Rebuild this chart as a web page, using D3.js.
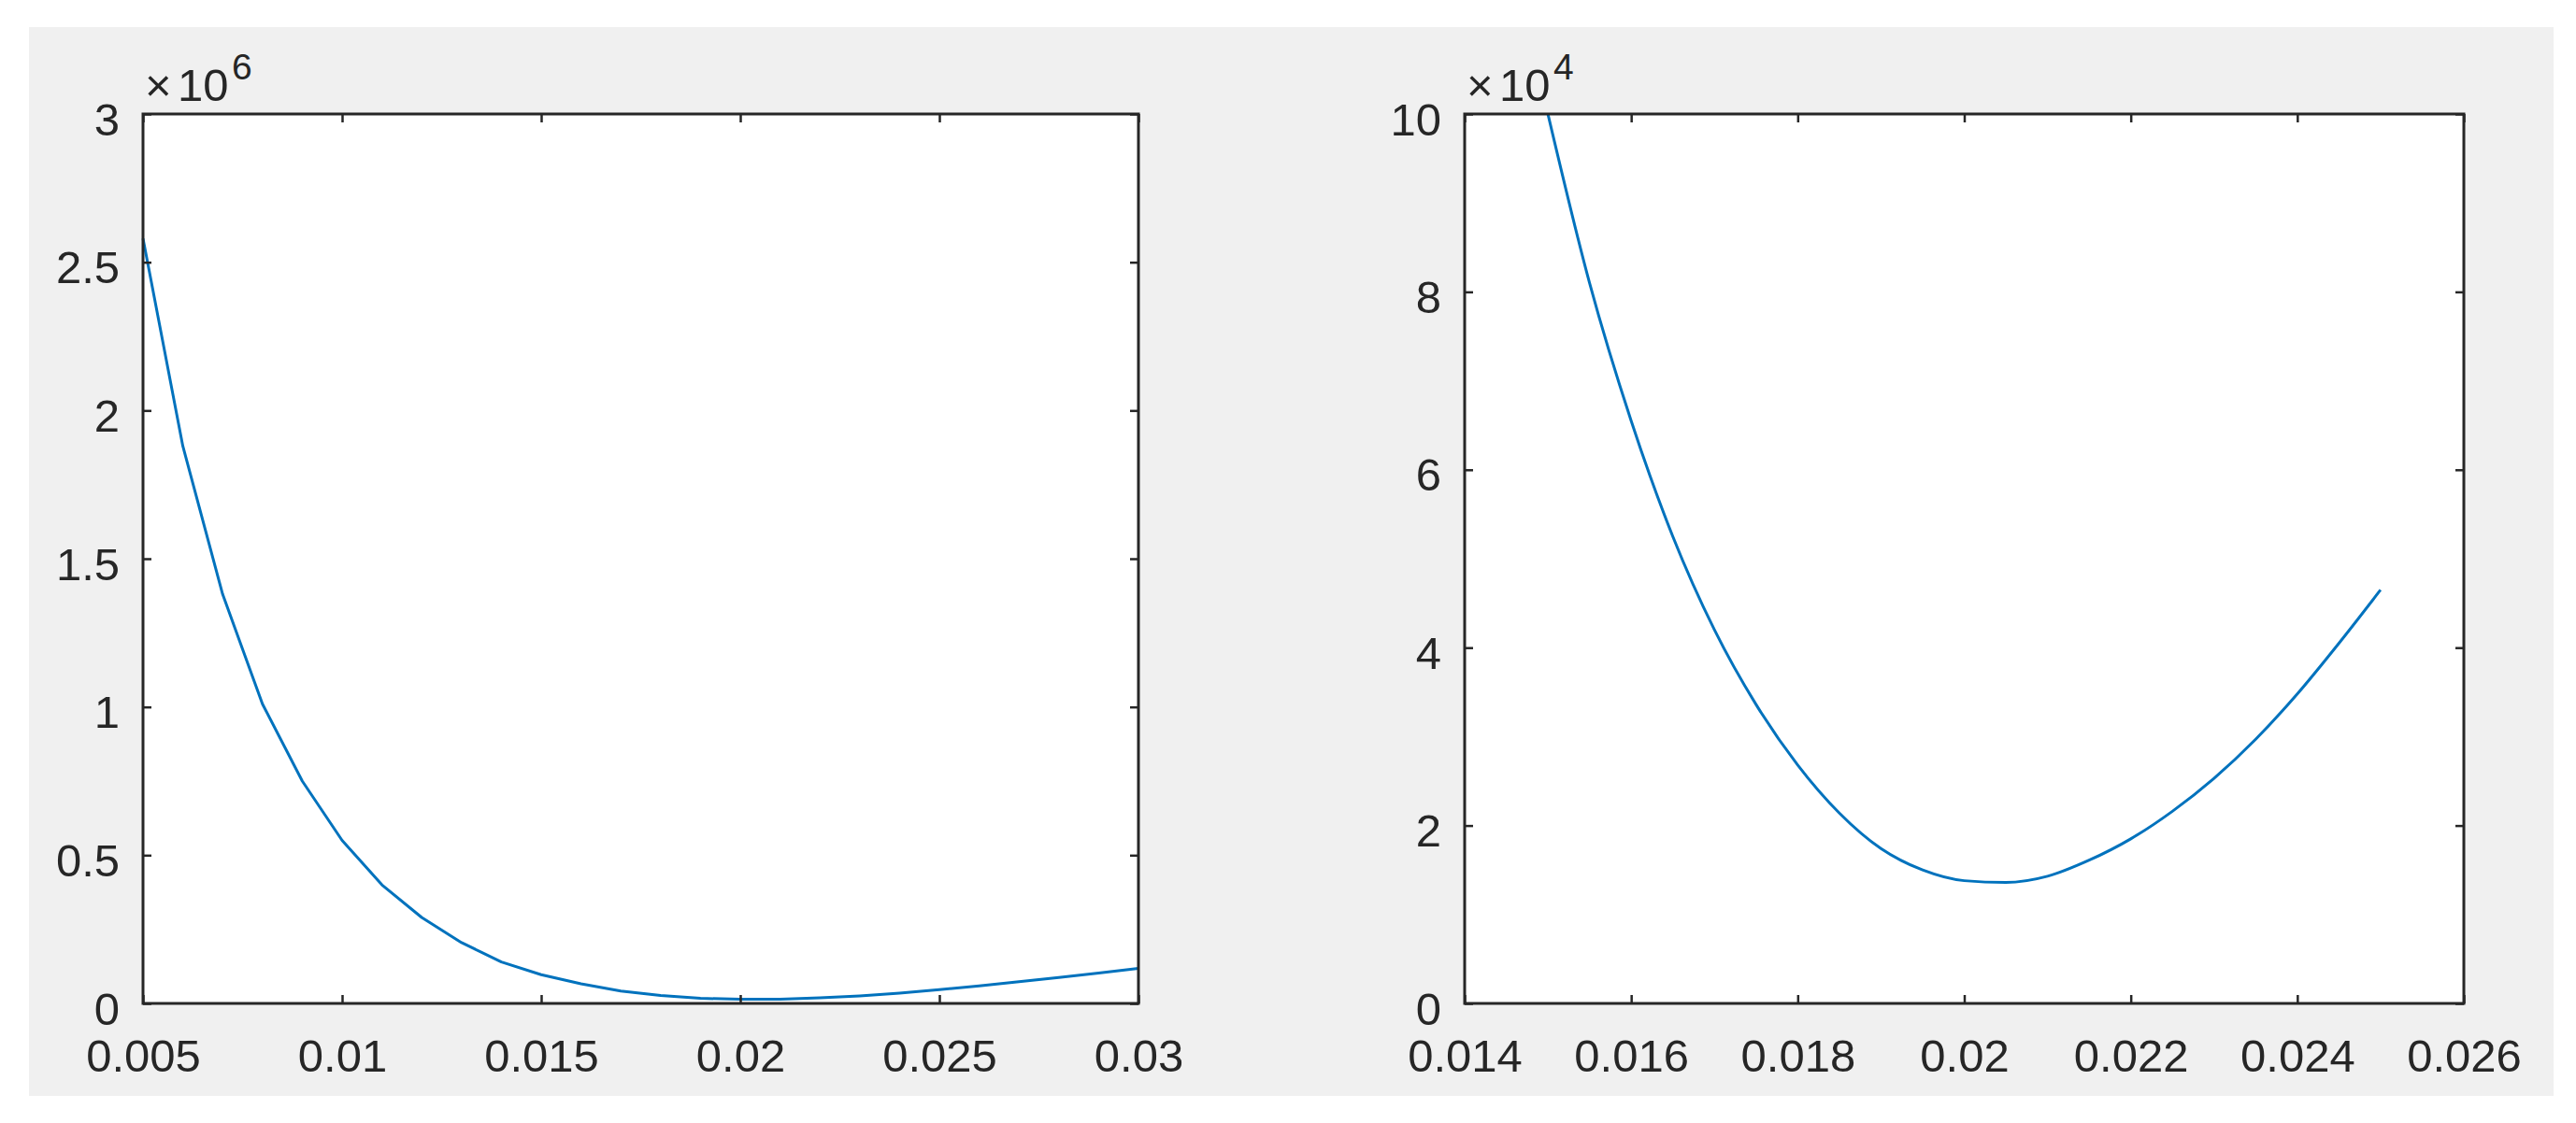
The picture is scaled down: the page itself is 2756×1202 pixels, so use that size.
<!DOCTYPE html>
<html>
<head>
<meta charset="utf-8">
<script src="https://cdn.jsdelivr.net/npm/d3@7"></script>
<style>
  html, body { margin: 0; padding: 0; background: #ffffff; }
  svg { display: block; }
  text { font-family: "Liberation Sans", Arial, Helvetica, sans-serif; fill: #262626; }
</style>
</head>
<body>
<svg id="chart" width="2756" height="1202"></svg>
<script>
// ---------- Data ----------
// Left panel
const leftX = [0.005, 0.006, 0.007, 0.008, 0.009, 0.010, 0.011, 0.012, 0.013, 0.014,
               0.015, 0.016, 0.017, 0.018, 0.019, 0.020, 0.021, 0.022, 0.023, 0.024,
               0.025, 0.026, 0.027, 0.028, 0.029, 0.030];
const leftY = [2580000, 1880000, 1380000, 1010000, 750000, 550000, 400000, 290000, 205000, 140000,
               97000, 66000, 41500, 26700, 17300, 13800, 14300, 18800, 25500, 34900,
               46500, 59000, 73000, 87500, 102500, 118000];
const leftXTicks = [0.005, 0.01, 0.015, 0.02, 0.025, 0.03];
const leftXTickLabels = ["0.005", "0.01", "0.015", "0.02", "0.025", "0.03"];
const leftYTicks = [0, 500000, 1000000, 1500000, 2000000, 2500000, 3000000];
const leftYTickLabels = ["0", "0.5", "1", "1.5", "2", "2.5", "3"];
const leftExponent = "6";

// Right panel
const rightX = [0.0150, 0.0155, 0.0160, 0.0165, 0.0170, 0.0175, 0.0180, 0.0185, 0.0190, 0.0195,
                0.0200, 0.0205, 0.0210, 0.0215, 0.0220, 0.0225, 0.0230, 0.0235, 0.0240, 0.0245, 0.0250];
const rightY = [100000, 81000, 65500, 52500, 42000, 33600, 26800, 21400, 17400, 15000,
                13800, 13600, 14300, 16100, 18500, 21600, 25300, 29700, 34800, 40500, 46500];
const rightXTicks = [0.014, 0.016, 0.018, 0.02, 0.022, 0.024, 0.026];
const rightXTickLabels = ["0.014", "0.016", "0.018", "0.02", "0.022", "0.024", "0.026"];
const rightYTicks = [0, 20000, 40000, 60000, 80000, 100000];
const rightYTickLabels = ["0", "2", "4", "6", "8", "10"];
const rightExponent = "4";

// ---------- Layout ----------
const svg = d3.select("#chart");
const FONT = 49;
const AXIS_COLOR = "#262626";
const LINE_COLOR = "#0072BD";

svg.append("rect")
  .attr("x", 31).attr("y", 29).attr("width", 2701).attr("height", 1144)
  .attr("fill", "#f0f0f0");

function panel(cfg) {
  const { left, top, width, height, xDomain, yDomain, xs, ys, xTicks, xLabels, yTicks, yLabels, exponent, id, curve } = cfg;
  const g = svg.append("g").attr("transform", `translate(${left},${top})`);
  const x = d3.scaleLinear().domain(xDomain).range([0, width]);
  const y = d3.scaleLinear().domain(yDomain).range([height, 0]);

  g.append("rect").attr("width", width).attr("height", height).attr("fill", "#ffffff");

  g.append("clipPath").attr("id", id)
    .append("rect").attr("x", -2).attr("y", -2).attr("width", width + 4).attr("height", height + 4);

  const pts = xs.map((d, i) => [d, ys[i]]);
  g.append("path")
    .datum(pts)
    .attr("clip-path", `url(#${id})`)
    .attr("fill", "none")
    .attr("stroke", LINE_COLOR)
    .attr("stroke-width", 3)
    .attr("stroke-linejoin", "round")
    .attr("d", d3.line().curve(curve).x(d => x(d[0])).y(d => y(d[1])));

  const fmtX = d => xLabels[xTicks.indexOf(d)];
  const fmtY = d => yLabels[yTicks.indexOf(d)];

  const gb = g.append("g").attr("transform", `translate(0,${height})`)
    .call(d3.axisBottom(x).tickValues(xTicks).tickFormat(fmtX).tickSizeInner(-9).tickSizeOuter(0).tickPadding(38));
  const gt = g.append("g")
    .call(d3.axisTop(x).tickValues(xTicks).tickFormat("").tickSizeInner(-9).tickSizeOuter(0));
  const gl = g.append("g")
    .call(d3.axisLeft(y).tickValues(yTicks).tickFormat(fmtY).tickSizeInner(-9).tickSizeOuter(0).tickPadding(25));
  const gr = g.append("g").attr("transform", `translate(${width},0)`)
    .call(d3.axisRight(y).tickValues(yTicks).tickFormat("").tickSizeInner(-9).tickSizeOuter(0));

  [gb, gt, gl, gr].forEach(a => {
    a.select(".domain").remove();
    a.selectAll(".tick line").attr("stroke", AXIS_COLOR).attr("stroke-width", 2.5);
    a.selectAll("text")
      .attr("font-size", FONT)
      .attr("font-family", "Liberation Sans, Arial, Helvetica, sans-serif")
      .attr("fill", AXIS_COLOR);
  });
  gl.selectAll("text").attr("dy", "0.45em");

  g.append("rect").attr("width", width).attr("height", height)
    .attr("fill", "none").attr("stroke", AXIS_COLOR).attr("stroke-width", 3);

  g.append("text").attr("x", 2).attr("y", -14).attr("font-size", FONT).attr("fill", "#3a3a3a").text("×");
  g.append("text").attr("x", 37).attr("y", -14).attr("font-size", FONT).text("10");
  g.append("text").attr("x", 95).attr("y", -37).attr("font-size", 39).text(exponent);
}

panel({
  id: "clipL", left: 153, top: 122, width: 1065, height: 952,
  xDomain: [0.005, 0.03], yDomain: [0, 3000000],
  xs: leftX, ys: leftY, xTicks: leftXTicks, xLabels: leftXTickLabels,
  yTicks: leftYTicks, yLabels: leftYTickLabels, exponent: leftExponent,
  curve: d3.curveLinear
});

panel({
  id: "clipR", left: 1567, top: 122, width: 1069, height: 952,
  xDomain: [0.014, 0.026], yDomain: [0, 100000],
  xs: rightX, ys: rightY, xTicks: rightXTicks, xLabels: rightXTickLabels,
  yTicks: rightYTicks, yLabels: rightYTickLabels, exponent: rightExponent,
  curve: d3.curveMonotoneX
});
</script>
</body>
</html>
